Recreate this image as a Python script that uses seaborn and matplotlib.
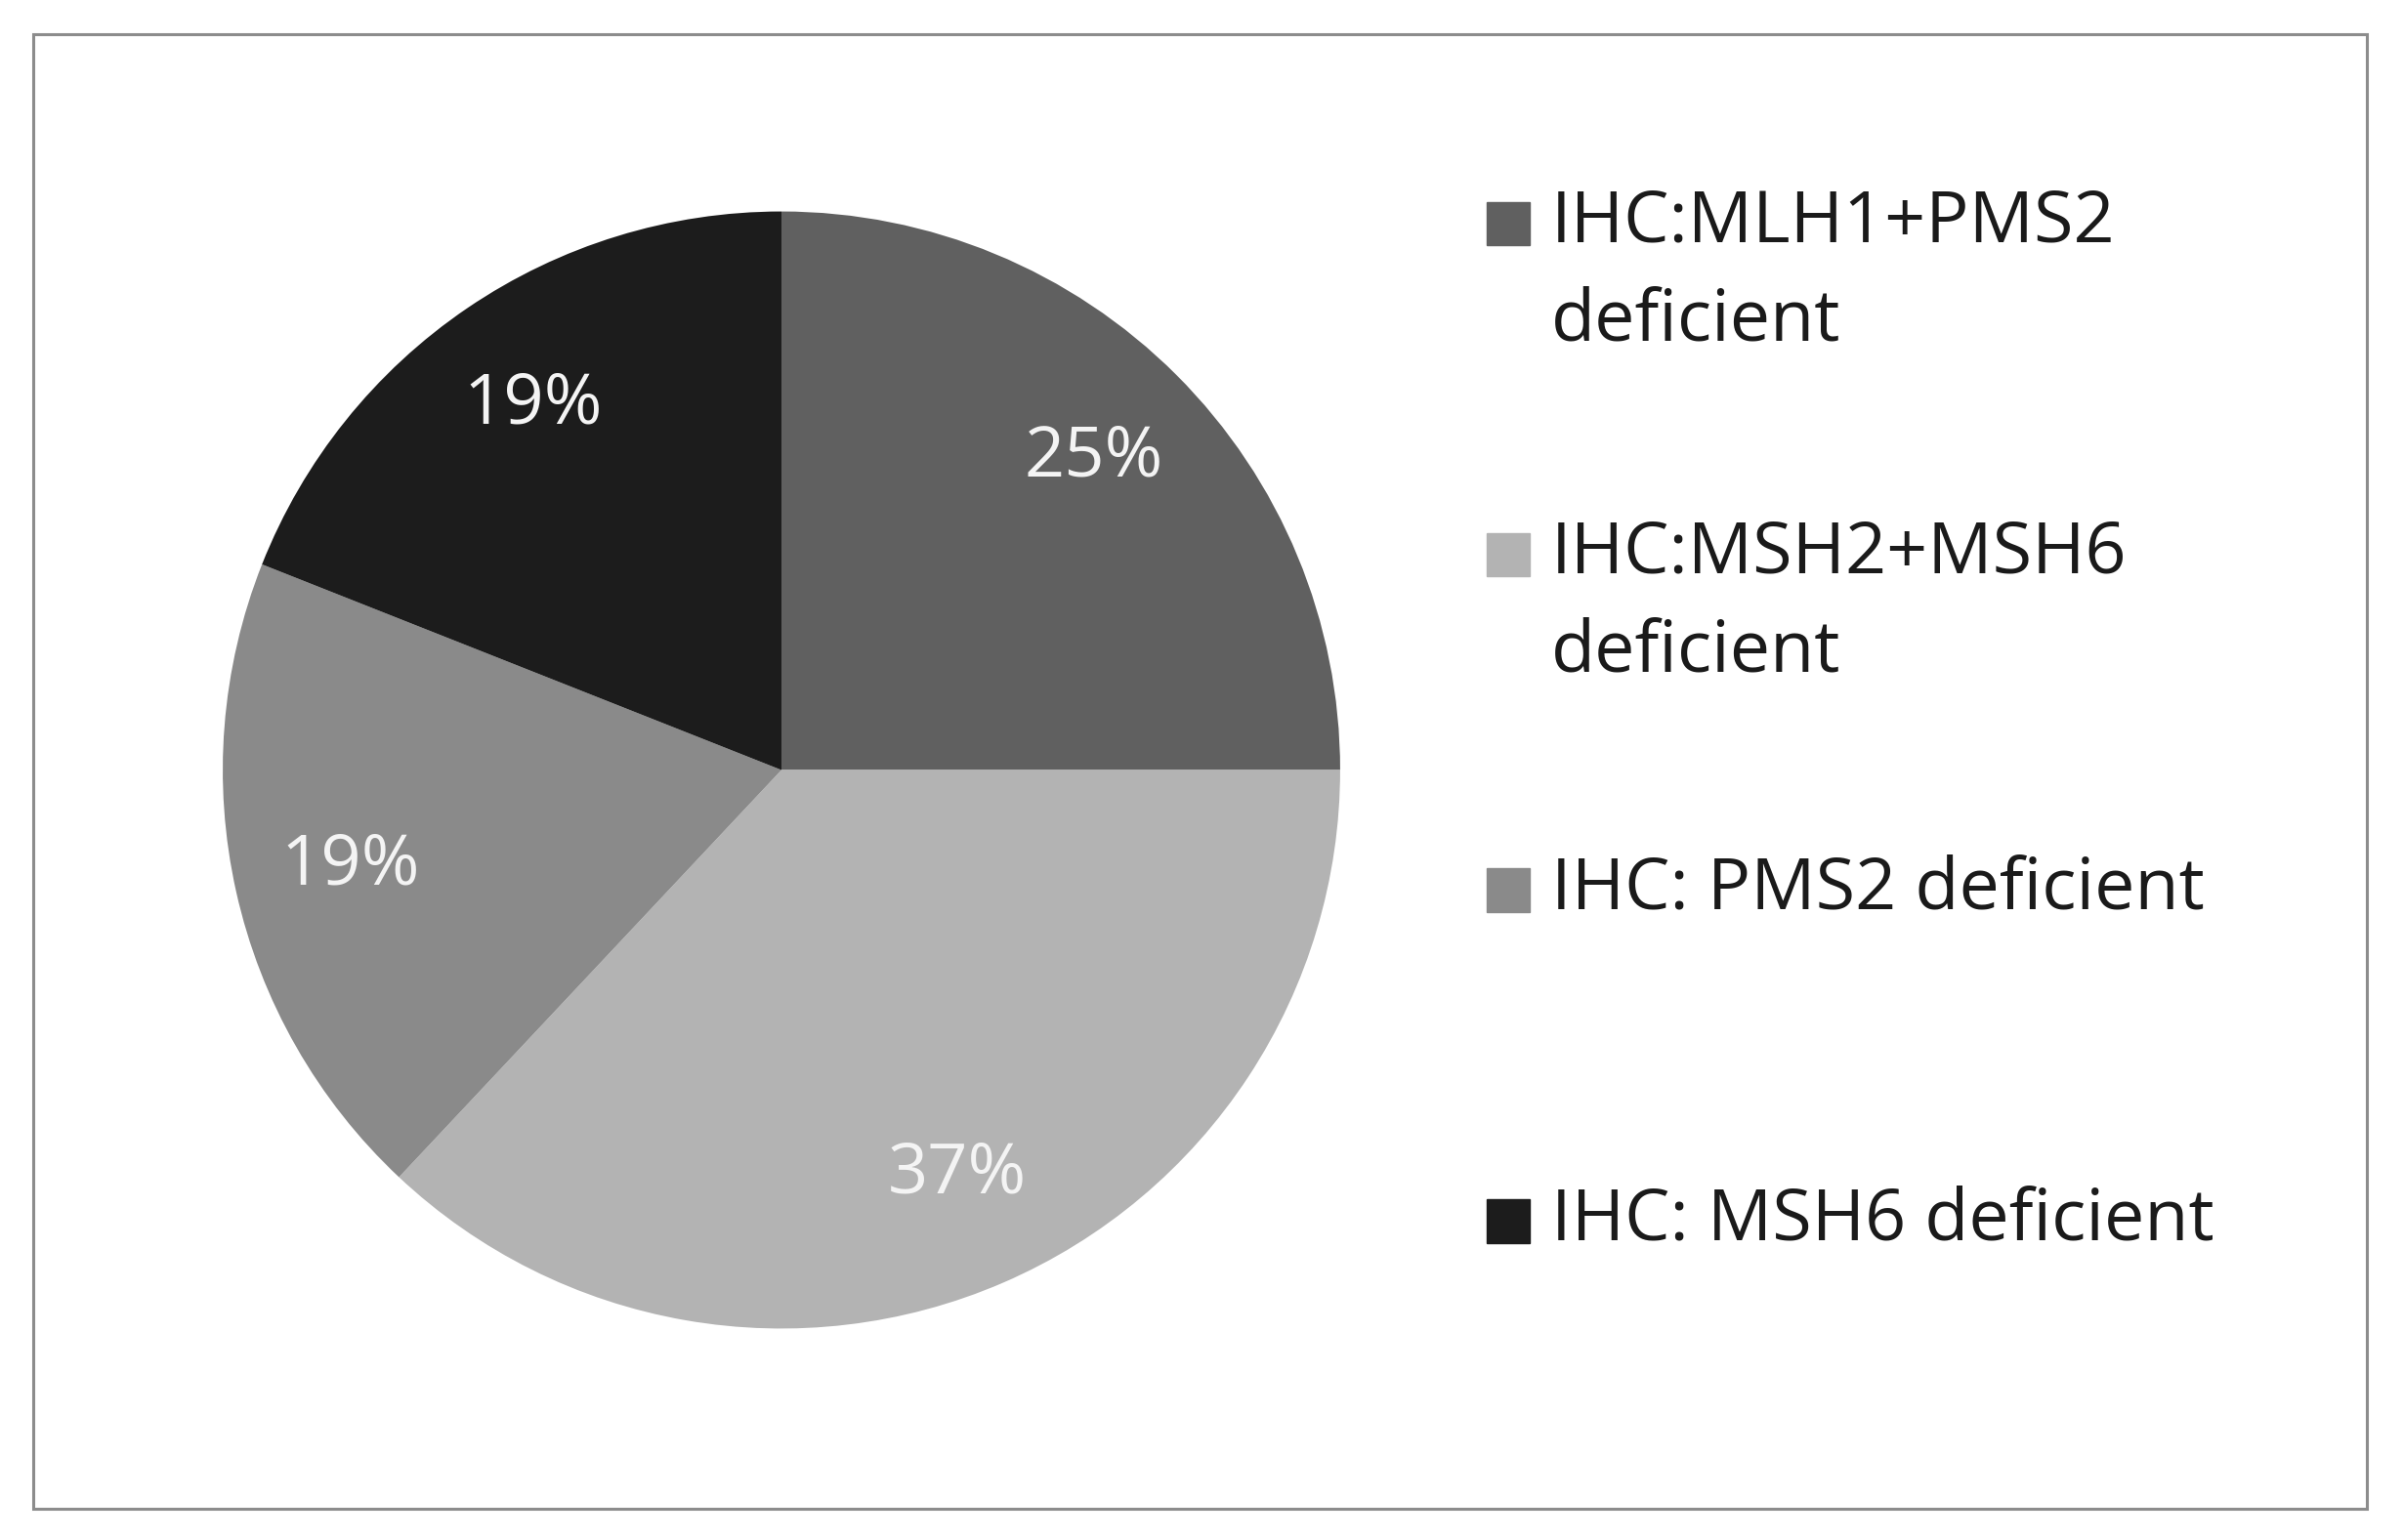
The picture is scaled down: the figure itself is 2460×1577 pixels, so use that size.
import matplotlib
matplotlib.use("Agg")
import matplotlib.pyplot as plt
import seaborn as sns
from matplotlib.patches import Rectangle

categories = ["IHC:MLH1+PMS2\ndeficient", "IHC:MSH2+MSH6\ndeficient",
              "IHC: PMS2 deficient", "IHC: MSH6 deficient"]
shares = [25, 37, 19, 19]
colors = ["#606060", "#b3b3b3", "#8a8a8a", "#1c1c1c"]

sns.set_theme(style="white")
plt.rcParams["font.family"] = ["Open Sans", "DejaVu Sans"]

fig = plt.figure(figsize=(24.6, 15.77), dpi=100)
ax = fig.add_axes([0.0927, 0.137, 0.465, 0.726])
ax.pie(shares, colors=colors, startangle=90, counterclock=False, radius=1.25,
       autopct=lambda p: f"{p:.0f}%", pctdistance=0.79,
       wedgeprops=dict(linewidth=0),
       textprops=dict(color="#f4f4f4", fontsize=52))
ax.set_aspect("equal")

# frame around the chart
fig.patches.append(Rectangle((0.014, 0.02), 0.971, 0.958, transform=fig.transFigure,
                             fill=False, edgecolor="#8c8c8c", linewidth=2.2))

# legend, first line of each entry aligned with its square
first_line_y = [145, 360, 578, 793]
for label, color, yp in zip(categories, colors, first_line_y):
    yc = 1 - yp / 1000
    fig.patches.append(Rectangle((970 / 1568, yc - 0.014), 28 / 1568, 0.028,
                                 transform=fig.transFigure, color=color))
    for i, line in enumerate(label.split("\n")):
        fig.text(1012 / 1568, yc - i * 0.064, line, fontsize=53, color="#1a1a1a",
                 va="center", ha="left")

fig.savefig("out.png", dpi=100)
